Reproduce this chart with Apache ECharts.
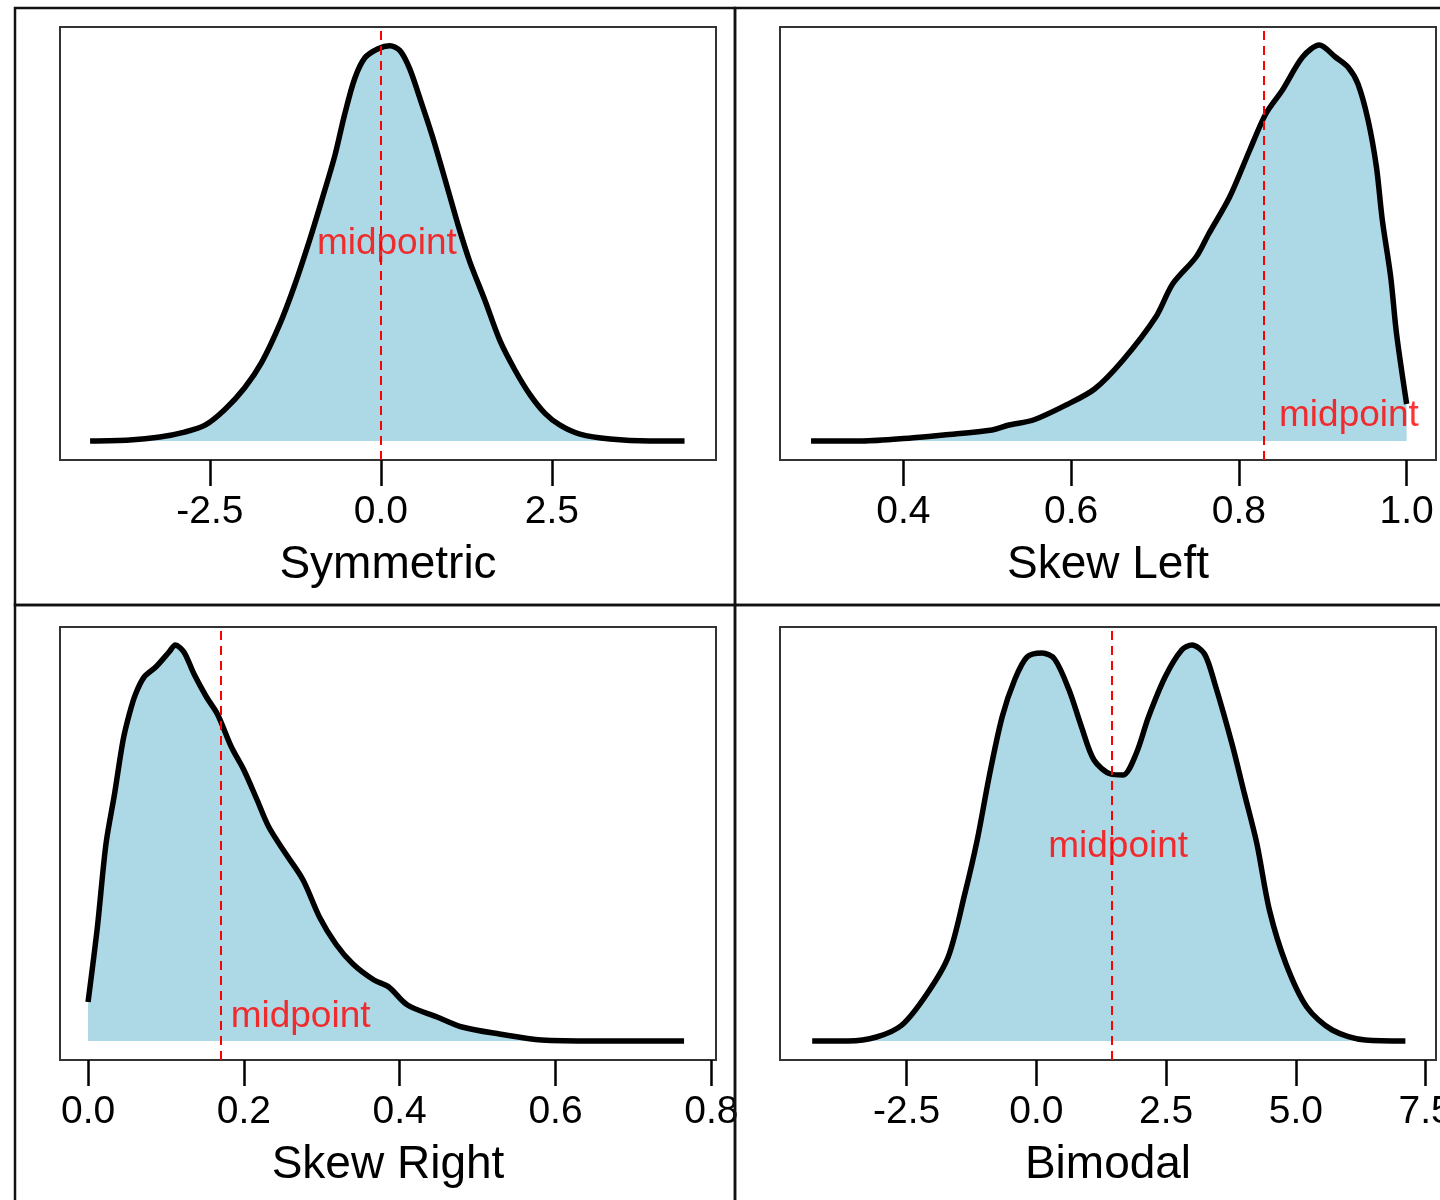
<!DOCTYPE html>
<html><head><meta charset="utf-8">
<script src="https://cdn.jsdelivr.net/npm/echarts@6/dist/echarts.min.js"></script>
<style>html,body{margin:0;padding:0;background:#fff}#c{width:1440px;height:1200px}</style>
</head><body><div id="c"></div>
<script>
// ---- data ----
const symX = [-4.25,-3.67,-3.23,-2.87,-2.57,-2.28,-1.99,-1.74,-1.48,-1.26,-1.04,-0.86,-0.67,-0.53,-0.38,-0.23,-0.04,0.13,0.28,0.42,0.57,0.75,0.94,1.13,1.30,1.52,1.74,1.96,2.18,2.40,2.62,2.91,3.35,3.93,4.44];
const symY = [0,0.001,0.004,0.009,0.016,0.032,0.054,0.080,0.118,0.158,0.204,0.245,0.290,0.331,0.368,0.389,0.398,0.401,0.396,0.378,0.348,0.310,0.265,0.219,0.182,0.143,0.102,0.072,0.047,0.028,0.016,0.007,0.002,0,0];
const symMid = 0.0;
const symTicks = [-2.5, 0, 2.5];

const slX = [0.290,0.351,0.409,0.448,0.506,0.526,0.555,0.594,0.628,0.662,0.701,0.721,0.749,0.764,0.789,0.813,0.832,0.852,0.876,0.896,0.915,0.930,0.942,0.954,0.964,0.971,0.981,0.988,1.000];
const slY = [0,0,0.03,0.06,0.11,0.16,0.21,0.36,0.52,0.81,1.24,1.57,1.84,2.07,2.44,2.91,3.27,3.51,3.84,3.96,3.84,3.74,3.57,3.21,2.74,2.21,1.64,1.07,0.37];
const slMid = 0.833;
const slTicks = [0.4, 0.6, 0.8, 1.0];

const srX = [0.000,0.012,0.023,0.034,0.045,0.053,0.061,0.072,0.087,0.104,0.112,0.123,0.136,0.152,0.166,0.184,0.200,0.217,0.232,0.254,0.276,0.297,0.318,0.340,0.367,0.386,0.410,0.448,0.480,0.528,0.582,0.652,0.765];
const srY = [0.39,1.14,1.97,2.47,3.01,3.27,3.47,3.64,3.74,3.89,3.96,3.89,3.67,3.44,3.27,2.94,2.71,2.41,2.14,1.87,1.61,1.24,0.97,0.77,0.61,0.54,0.36,0.24,0.14,0.07,0.01,0,0];
const srMid = 0.167;
const srTicks = [0, 0.2, 0.4, 0.6, 0.8];

const bmX = [-4.32,-3.63,-3.08,-2.59,-2.11,-1.70,-1.38,-1.14,-0.90,-0.66,-0.42,-0.18,0.11,0.35,0.63,0.87,1.11,1.43,1.67,1.92,2.16,2.48,2.80,3.00,3.24,3.44,3.77,4.01,4.25,4.49,4.81,5.21,5.70,6.34,7.11];
const bmY = [0,0,0.002,0.008,0.0235,0.042,0.0735,0.1005,0.1335,0.162,0.1805,0.192,0.194,0.191,0.1755,0.157,0.1405,0.1335,0.133,0.1435,0.162,0.182,0.1955,0.198,0.1935,0.1785,0.1485,0.1235,0.0985,0.0655,0.0385,0.017,0.0055,0.0005,0];
const bmMid = 1.46;
const bmTicks = [-2.5, 0, 2.5, 5, 7.5];

const titles = ['Symmetric', 'Skew Left', 'Skew Right', 'Bimodal'];

// ---- layout / style ----
const FONT = '"Liberation Sans", Arial, Helvetica, sans-serif';
const panels = [
  {x: symX, y: symY, mid: symMid, ticks: symTicks, xr: [-4.69, 4.90], yr: [-0.0193, 0.42], left: 60, top: 27, lab: 'center', level: 0.5},
  {x: slX, y: slY, mid: slMid, ticks: slTicks, xr: [0.253, 1.035], yr: [-0.19, 4.14], left: 780, top: 27, lab: 'right', level: 0.063},
  {x: srX, y: srY, mid: srMid, ticks: srTicks, xr: [-0.036, 0.806], yr: [-0.19, 4.14], left: 60, top: 627, lab: 'right', level: 0.06},
  {x: bmX, y: bmY, mid: bmMid, ticks: bmTicks, xr: [-4.94, 7.70], yr: [-0.0095, 0.207], left: 780, top: 627, lab: 'center', level: 0.49}
];

const grid = [], xAxis = [], yAxis = [], series = [];
panels.forEach((p, i) => {
  grid.push({left: p.left, top: p.top, width: 656, height: 433, show: true,
    borderColor: '#333', borderWidth: 2, backgroundColor: 'transparent',
    containLabel: false, outerBoundsMode: 'none'});
  xAxis.push({type: 'value', gridIndex: i, min: p.xr[0], max: p.xr[1],
    name: titles[i], nameLocation: 'middle', nameGap: 82,
    nameTextStyle: {fontFamily: FONT, fontSize: 46, color: '#000'},
    axisLine: {show: true, onZero: false, lineStyle: {color: 'rgba(0,0,0,0)', width: 1}},
    splitLine: {show: false},
    axisTick: {show: true, length: 26, inside: false, customValues: p.ticks,
      lineStyle: {color: '#000', width: 2.5}},
    axisLabel: {show: true, customValues: p.ticks, margin: 33,
      fontFamily: FONT, fontSize: 39, color: '#000',
      formatter: v => v.toFixed(1)}});
  yAxis.push({type: 'value', gridIndex: i, min: p.yr[0], max: p.yr[1], show: false,
    splitLine: {show: false}});
  series.push({type: 'line', xAxisIndex: i, yAxisIndex: i,
    data: p.x.map((v, k) => [v, p.y[k]]),
    showSymbol: false, symbol: 'none', smooth: 0.3,
    lineStyle: {color: '#000', width: 5.5, join: 'round', cap: 'butt'},
    areaStyle: {color: '#ADD8E6', opacity: 1},
    silent: true, animation: false,
    markLine: {silent: true, symbol: 'none', animation: false,
      label: {show: false},
      lineStyle: {color: '#FF0000', type: [9, 6], width: 2},
      data: [{xAxis: p.mid}]}});
  const peak = Math.max(...p.y);
  series.push({type: 'scatter', xAxisIndex: i, yAxisIndex: i, z: 5,
    data: [[p.mid, peak * p.level]], symbolSize: 1,
    itemStyle: {color: 'rgba(0,0,0,0)'}, silent: true, animation: false,
    label: {show: true, formatter: 'midpoint', color: '#FF0000',
      fontFamily: FONT, fontSize: 37,
      position: p.lab === 'center' ? 'inside' : 'right',
      distance: 12, offset: p.lab === 'center' ? [6, 0] : [0, 0]}});
});

const frames = [[15, 8], [735, 8], [15, 605], [735, 605]].map(([x, y]) => ({
  type: 'rect', shape: {x: x, y: y, width: 720, height: 597},
  style: {fill: 'none', stroke: '#111', lineWidth: 2.5}, z: 100, silent: true}));

const chart = echarts.init(document.getElementById('c'), null, {renderer: 'canvas'});
chart.setOption({backgroundColor: '#fff', animation: false,
  grid, xAxis, yAxis, series, graphic: frames});
</script></body></html>
